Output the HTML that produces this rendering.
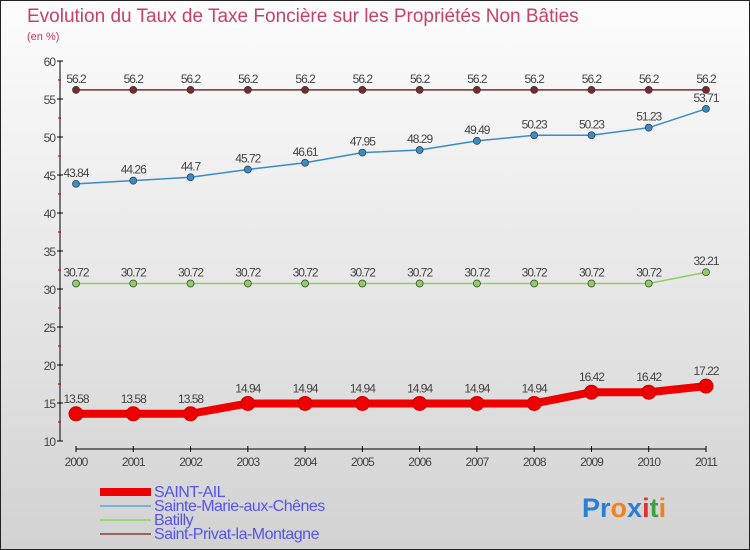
<!DOCTYPE html>
<html><head><meta charset="utf-8"><style>
body{margin:0}
svg{display:block;font-family:"Liberation Sans",sans-serif}
</style></head><body>
<svg width="750" height="550">
<defs><linearGradient id="bg" x1="0" y1="0" x2="0" y2="1"><stop offset="0" stop-color="#fdfdfd"/><stop offset="1" stop-color="#d2d2d2"/></linearGradient></defs>
<rect x="0.5" y="0.5" width="749" height="549" fill="url(#bg)" stroke="#222"/>
<text x="27" y="22" font-size="19" fill="#c8406a">Evolution du Taux de Taxe Foncière sur les Propriétés Non Bâties</text>
<text x="27" y="40" font-size="11" fill="#c8306a">(en %)</text>
<g id="axes"></g>
<g id="series"></g>
<g id="legend" font-size="16" fill="#5555ee"></g>
<text x="582" y="517" font-size="27" font-weight="bold"><tspan fill="#2a7fd0">Pr</tspan><tspan fill="#f08020">o</tspan><tspan fill="#2a7fd0">x</tspan><tspan fill="#e03030">i</tspan><tspan fill="#40a040">t</tspan><tspan fill="#f08020">i</tspan></text>
</svg>
<script>
const years=[2000,2001,2002,2003,2004,2005,2006,2007,2008,2009,2010,2011];
const saintAil=[13.58,13.58,13.58,14.94,14.94,14.94,14.94,14.94,14.94,16.42,16.42,17.22];
const sainteMarie=[43.84,44.26,44.7,45.72,46.61,47.95,48.29,49.49,50.23,50.23,51.23,53.71];
const batilly=[30.72,30.72,30.72,30.72,30.72,30.72,30.72,30.72,30.72,30.72,30.72,32.21];
const saintPrivat=[56.2,56.2,56.2,56.2,56.2,56.2,56.2,56.2,56.2,56.2,56.2,56.2];
const yTicks=[10,15,20,25,30,35,40,45,50,55,60];
const names=["SAINT-AIL","Sainte-Marie-aux-Chênes","Batilly","Saint-Privat-la-Montagne"];
const NS="http://www.w3.org/2000/svg";
const x=i=>76+i*(630/11);
const y=v=>441-(v-10)*7.6;
function mk(t,a,p){const e=document.createElementNS(NS,t);for(const k in a)e.setAttribute(k,a[k]);p.appendChild(e);return e;}
const ax=document.getElementById('axes');
const yl=mk('line',{x1:60,y1:y(60),x2:60,y2:y(10),stroke:'#000'},ax);


yTicks.forEach(v=>{
 mk('line',{x1:57,x2:63,y1:y(v),y2:y(v),stroke:'#000'},ax);
 if(v<60){mk('line',{x1:58,x2:61,y1:y(v+2.5),y2:y(v+2.5),stroke:'#c00'},ax);}
 const t=mk('text',{x:55,y:y(v)+5,'text-anchor':'end','font-size':12,fill:'#444','letter-spacing':'-1'},ax);t.textContent=v;
 
 
});
const xl=mk('line',{x1:x(0),x2:x(11),y1:449,y2:449,stroke:'#000'},ax);


years.forEach((yr,i)=>{
 mk('line',{x1:x(i),x2:x(i),y1:446,y2:452,stroke:'#000'},ax);
 const t=mk('text',{x:x(i),y:466,'text-anchor':'middle','font-size':12,fill:'#444','letter-spacing':'-1'},ax);t.textContent=yr;
 
 
});
const sg=document.getElementById('series');
const series=[
 {d:saintPrivat,c:'#7a2a2a',w:1.5,r:3.5,n:'saint-privat'},
 {d:sainteMarie,c:'#3a8cc8',w:1.5,r:3.5,n:'sainte-marie'},
 {d:batilly,c:'#8cd060',w:1.5,r:3.5,n:'batilly'},
 {d:saintAil,c:'#ee0000',w:8,r:7,n:'saint-ail'}];
series.forEach(s=>{
 const g=mk('g',{},sg);
 
 
 const p=mk('polyline',{points:s.d.map((v,i)=>x(i)+','+y(v)).join(' '),fill:'none',stroke:s.c,'stroke-width':s.w},g);
 
 
 s.d.forEach((v,i)=>{
  const c=mk('circle',{cx:x(i),cy:y(v),r:s.r,fill:s.c,stroke:s.w>2?'#c00':'#333','stroke-width':s.w>2?1:0.7},g);
  
  
  const t=mk('text',{x:x(i),y:y(v)-(s.w>2?11:7),'text-anchor':'middle','font-size':12,fill:'#444','letter-spacing':'-1'},g);
  t.textContent=v;
  
  
 });
});
const lg=document.getElementById('legend');
const lc=['#ee0000','#7ab0d8','#9cd870','#a06060'],lw=[8,2,2,2];
names.forEach((n,i)=>{
 const yy=492+i*14;
 const l=mk('line',{x1:100,x2:151,y1:yy,y2:yy,stroke:lc[i],'stroke-width':lw[i]},lg);
 
 
 const t=mk('text',{x:154,y:yy+5,'letter-spacing':'-0.5'},lg);t.textContent=n;
 
 
});
</script>
</body></html>
